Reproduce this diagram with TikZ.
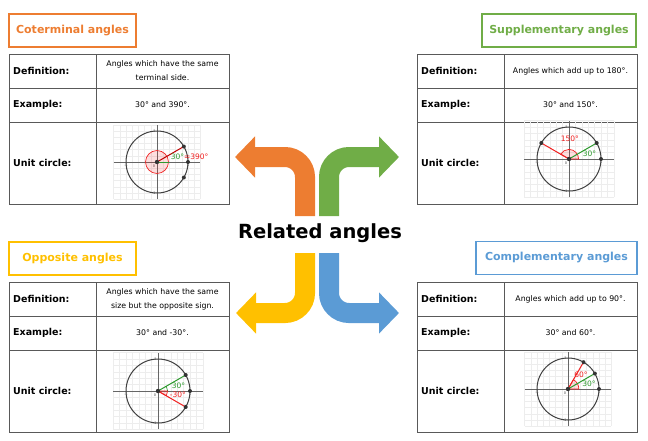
\documentclass[tikz,border=0pt]{standalone}
\usepackage{fontspec}
\setmainfont{DejaVu Sans}
\usetikzlibrary{arrows.meta}
\definecolor{angorange}{HTML}{ED7D31}
\definecolor{anggreen}{HTML}{70AD47}
\definecolor{angyellow}{HTML}{FFC000}
\definecolor{angblue}{HTML}{5B9BD5}
\definecolor{anggr}{HTML}{2E9A2E}
\definecolor{angred}{HTML}{F02020}

% table of one kind of related angles: prefix, left, top, definition, example
\newcommand\reltable[5]{%
  \draw[tablebox] (#2,#3) rectangle (#2+220,#3+150)
    (#2+87,#3) -- (#2+87,#3+150)
    (#2,#3+34) -- (#2+220,#3+34)
    (#2,#3+68) -- (#2+220,#3+68);
  \node[rowlabel] (#1deflbl) at (#2+4,#3+17) {Definition:};
  \node[rowlabel] (#1exlbl) at (#2+4,#3+51) {Example:};
  \node[rowlabel] (#1uclbl) at (#2+4,#3+109) {Unit circle:};
  \node[cellvalue] (#1def) at (#2+153.5,#3+17) {#4};
  \node[cellvalue] (#1ex) at (#2+153.5,#3+51) {#5};
}
% grid, axes and circle of a unit circle
\newcommand\ucbase[1]{%
  \draw[ucgrid] (-1.4,-1.2) grid[step=0.2] (1.4,1.2);
  \draw[ucaxis] (-1.4,0) -- (1.4,0) (0,-1.2) -- (0,1.2);
  \draw[uccircle] (0,0) circle (1);
  \node[ticklbl, anchor=north east] (#1zero) at (-0.04,-0.06) {0};
  \node[ticklbl, anchor=north] (#1right) at (1,-0.04) {1};
  \node[ticklbl, anchor=north] (#1left) at (-1,-0.04) {-1};
  \node[ticklbl, anchor=east] (#1top) at (-0.02,1) {1};
  \node[ticklbl, anchor=east] (#1bottom) at (-0.02,-1) {-1};
}

\begin{document}
\begin{tikzpicture}[x=1pt,y=-1pt,
  tablebox/.style={draw=black!65, line width=0.8pt},
  rowlabel/.style={anchor=west, font=\fontsize{9.5}{11}\selectfont\bfseries, inner sep=0pt},
  cellvalue/.style={align=center, font=\fontsize{7.8}{14}\selectfont, inner sep=0pt},
  titlebox/.style={draw=#1, text=#1, line width=1.8pt, font=\fontsize{11}{13}\selectfont\bfseries, minimum height=33pt, inner sep=0pt},
  bigarrow/.style={line width=20pt, rounded corners=20pt, -{Triangle[width=40pt,length=20pt]}},
  ucgrid/.style={draw=black!7, line width=0.3pt},
  ucaxis/.style={draw=black!60, line width=0.7pt},
  uccircle/.style={draw=black!75, line width=1pt},
  ucdot/.style={fill=black!80},
  ucline/.style={line width=1pt},
  ticklbl/.style={font=\fontsize{3.5}{4}\selectfont, text=black!70, inner sep=0.5pt},
  anglbl/.style={font=\fontsize{7.5}{8}\selectfont, inner sep=0pt},
  sector/.style={draw=angred, fill=angred, fill opacity=0.15, line width=0.7pt},
]
\useasboundingbox (0,0) rectangle (648,440);

% titles
\node[titlebox=angorange, minimum width=127pt] (cttitle) at (72.5,30.5) {Coterminal angles};
\node[titlebox=anggreen, minimum width=154pt] (sutitle) at (559,30.5) {Supplementary angles};
\node[titlebox=angyellow, minimum width=127pt] (optitle) at (72.5,258.5) {Opposite angles};
\node[titlebox=angblue, minimum width=161pt] (cotitle) at (556.5,258) {Complementary angles};

% tables
\reltable{ct}{9}{54}{Angles which have the same\\terminal side.}{30° and 390°.}
\reltable{su}{417}{54}{Angles which add up to 180°.}{30° and 150°.}
\reltable{op}{9}{282}{Angles which have the same\\size but the opposite sign.}{30° and -30°.}
\reltable{co}{417}{282}{Angles which add up to 90°.}{30° and 60°.}

% unit circles
\begin{scope}[shift={(157,162)}, x=31pt, y=31pt]
  \ucbase{ct}
  \filldraw[sector] (0,0) circle (0.37);
  \draw[anggr, ucline] (0,0) -- (0.4,0);
  \draw[red!75!black, ucline] (0,0) -- (30:1);
  \fill[ucdot] (0,0) circle (2.2pt) (30:1) circle (2pt) (1,0) circle (2pt) (-30:1) circle (2pt);
  \node[anglbl, anchor=west] (ctangle) at (0.44,0.16) {\textcolor{anggr}{30°}\textcolor{angred}{=390°}};
\end{scope}

\begin{scope}[shift={(569,159)}, x=32pt, y=32pt]
  \ucbase{su}
  \filldraw[sector] (0,0) -- (0.3,0) arc (0:150:0.3) -- cycle;
  \draw[angred, ucline] (0,0) -- (150:1);
  \draw[anggr, ucline] (0,0) -- (30:1);
  \fill[ucdot] (0,0) circle (2.2pt) (150:1) circle (2pt) (30:1) circle (2pt) (1,0) circle (2pt);
  \node[anglbl, text=angred] (sularge) at (0.03,0.63) {150°};
  \node[anglbl, text=anggr] (susmall) at (0.64,0.16) {30°};
\end{scope}

\begin{scope}[shift={(158,391)}, x=32pt, y=32pt]
  \ucbase{op}
  \draw[anggr, line width=0.7pt] (0.3,0) arc (0:30:0.3);
  \filldraw[sector] (0,0) -- (0.3,0) arc (0:-30:0.3) -- cycle;
  \draw[anggr, ucline] (0,0) -- (30:1);
  \draw[angred, ucline] (0,0) -- (-30:1);
  \fill[ucdot] (0,0) circle (2.2pt) (30:1) circle (2pt) (1,0) circle (2pt) (-30:1) circle (2pt);
  \node[anglbl, text=anggr] (oppos) at (0.64,0.17) {30°};
  \node[anglbl, text=angred] (opneg) at (0.62,-0.12) {-30°};
\end{scope}

\begin{scope}[shift={(568,389)}, x=31pt, y=31pt]
  \ucbase{co}
  \filldraw[sector] (0,0) -- (0.35,0) arc (0:60:0.35) -- cycle;
  \draw[angred, ucline] (0,0) -- (60:1);
  \draw[anggr, ucline] (0,0) -- (30:1);
  \fill[ucdot] (0,0) circle (2.2pt) (60:1) circle (2pt) (30:1) circle (2pt) (1,0) circle (2pt);
  \node[anglbl, text=angred] (colarge) at (0.42,0.46) {60°};
  \node[anglbl, text=anggr] (cosmall) at (0.68,0.16) {30°};
\end{scope}

% arrows round the middle
\coordinate (ctend) at (235,157);
\coordinate (suend) at (399,157);
\coordinate (opend) at (236,313);
\coordinate (coend) at (399,313);
\draw[bigarrow, angorange] (305,216) |- (ctend);
\draw[bigarrow, anggreen] (329,216) |- (suend);
\draw[bigarrow, angyellow] (305,253) |- (opend);
\draw[bigarrow, angblue] (329,253) |- (coend);

\node[font=\fontsize{19.5}{22}\selectfont\bfseries] (related) at (320,233) {Related angles};
\end{tikzpicture}
\end{document}
